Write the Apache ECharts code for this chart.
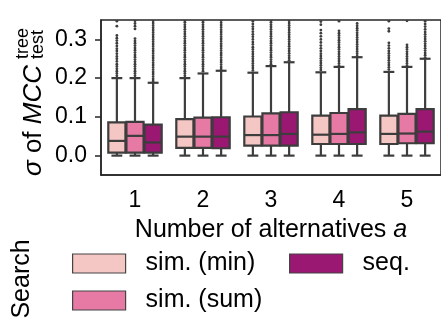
<!DOCTYPE html>
<html>
<head>
<meta charset="utf-8">
<script src="https://cdn.jsdelivr.net/npm/echarts@6/dist/echarts.min.js"></script>
<style>
html, body { margin: 0; padding: 0; background: #fff; }
#chart { width: 441px; height: 320px; }
</style>
</head>
<body>
<div id="chart"></div>
<script>
var categories = ['1', '2', '3', '4', '5'];
var searchNames = ['sim. (min)', 'sim. (sum)', 'seq.'];
var colors = ['#f4c7c5', '#e77aa4', '#9a1772'];
var yTicks = [0, 0.1, 0.2, 0.3];

// [lower whisker, q1, median, q3, upper whisker] for each a
var boxMin = [[0, 0.008, 0.038, 0.086, 0.200], [0, 0.020, 0.049, 0.094, 0.200], [0, 0.026, 0.053, 0.101, 0.214], [0, 0.030, 0.054, 0.103, 0.215], [0, 0.030, 0.056, 0.103, 0.216]];
var boxSum = [[0, 0.008, 0.051, 0.087, 0.200], [0, 0.020, 0.049, 0.098, 0.212], [0, 0.026, 0.053, 0.109, 0.231], [0, 0.030, 0.056, 0.110, 0.229], [0, 0.032, 0.057, 0.108, 0.229]];
var boxSeq = [[0, 0.008, 0.034, 0.080, 0.188], [0, 0.019, 0.049, 0.099, 0.219], [0, 0.026, 0.056, 0.112, 0.241], [0, 0.030, 0.060, 0.120, 0.254], [0, 0.032, 0.062, 0.120, 0.250]];

// outliers above the upper whisker (the plot is cut at 0.35)
var fliersMin = [
  [0.206, 0.212, 0.218, 0.224, 0.230, 0.236, 0.243, 0.250, 0.256, 0.263, 0.270, 0.276, 0.283, 0.290, 0.297, 0.303, 0.310, 0.334, 0.347],
  [0.206, 0.212, 0.218, 0.224, 0.230, 0.236, 0.242, 0.248, 0.254, 0.260, 0.266, 0.272, 0.278, 0.284, 0.290, 0.296, 0.302, 0.308, 0.314, 0.320, 0.326, 0.332, 0.338, 0.344, 0.349],
  [0.220, 0.226, 0.232, 0.238, 0.244, 0.250, 0.256, 0.262, 0.268, 0.274, 0.280, 0.287, 0.293, 0.300, 0.307, 0.313, 0.320, 0.327, 0.333, 0.340, 0.347],
  [0.221, 0.227, 0.233, 0.239, 0.245, 0.251, 0.257, 0.263, 0.270, 0.277, 0.284, 0.292, 0.300, 0.308, 0.316, 0.324, 0.338, 0.346],
  [0.222, 0.228, 0.234, 0.240, 0.246, 0.252, 0.258, 0.264, 0.270, 0.277, 0.284, 0.291, 0.321, 0.328, 0.347]
];
var fliersSum = [
  [0.206, 0.212, 0.218, 0.224, 0.230, 0.236, 0.242, 0.248, 0.254, 0.260, 0.266, 0.272, 0.278, 0.284, 0.290, 0.296, 0.302, 0.327, 0.334, 0.341, 0.348],
  [0.218, 0.224, 0.230, 0.236, 0.242, 0.248, 0.254, 0.260, 0.266, 0.272, 0.278, 0.284, 0.290, 0.296, 0.302, 0.308, 0.314, 0.320, 0.326, 0.332, 0.338, 0.344, 0.349],
  [0.236, 0.242, 0.248, 0.254, 0.260, 0.266, 0.272, 0.278, 0.284, 0.290, 0.296, 0.302, 0.308, 0.314, 0.320, 0.326, 0.332, 0.338, 0.344, 0.349],
  [0.232, 0.238, 0.244, 0.250, 0.256, 0.262, 0.268, 0.274, 0.280, 0.286, 0.292, 0.298, 0.304, 0.310, 0.316, 0.322, 0.347],
  [0.232, 0.238, 0.244, 0.250, 0.256, 0.262, 0.268, 0.274, 0.280, 0.286, 0.348]
];
var fliersSeq = [
  [0.192, 0.198, 0.204, 0.210, 0.216, 0.222, 0.228, 0.234, 0.240, 0.246, 0.252, 0.258, 0.264, 0.270, 0.276, 0.282, 0.288, 0.294, 0.300, 0.306, 0.312, 0.318, 0.324, 0.330, 0.336, 0.342, 0.348],
  [0.223, 0.229, 0.235, 0.241, 0.247, 0.253, 0.259, 0.265, 0.271, 0.277, 0.283, 0.289, 0.295, 0.301, 0.307, 0.313, 0.319, 0.325, 0.331, 0.337, 0.343, 0.349],
  [0.246, 0.252, 0.258, 0.264, 0.270, 0.276, 0.282, 0.288, 0.294, 0.300, 0.306, 0.312, 0.318, 0.324, 0.330, 0.336, 0.342, 0.348],
  [0.257, 0.263, 0.269, 0.275, 0.281, 0.287, 0.293, 0.299, 0.305, 0.311, 0.317, 0.323, 0.329, 0.335, 0.341],
  [0.253, 0.259, 0.265, 0.271, 0.277, 0.283, 0.289, 0.295, 0.301, 0.307, 0.313, 0.319, 0.326, 0.333, 0.340, 0.347]
];

var FONT = '"Liberation Sans", Arial, sans-serif';
var EDGE = '#3d3d3d';

function boxRender(h, fliers) {
  return function (params, api) {
    var i = api.value(0);
    var band = api.size([1, 0])[0];
    var w = band * 0.8 / 3;
    var cx = api.coord([i, 0])[0] + (h - 1) * w;
    var bw = w - 1;
    var cap = w * 0.3;
    var y = function (v) { return api.coord([i, v])[1]; };
    var lo = y(api.value(1)), q1 = y(api.value(2)), med = y(api.value(3)), q3 = y(api.value(4)), hi = y(api.value(5));
    var line = { stroke: EDGE, lineWidth: 2.2 };
    var kids = [
      { type: 'line', shape: { x1: cx, y1: q1, x2: cx, y2: lo }, style: line },
      { type: 'line', shape: { x1: cx, y1: q3, x2: cx, y2: hi }, style: line },
      { type: 'line', shape: { x1: cx - cap, y1: lo, x2: cx + cap, y2: lo }, style: line },
      { type: 'line', shape: { x1: cx - cap, y1: hi, x2: cx + cap, y2: hi }, style: line },
      { type: 'rect', shape: { x: cx - bw / 2, y: q3, width: bw, height: q1 - q3 }, style: { fill: colors[h], stroke: EDGE, lineWidth: 2.2 } },
      { type: 'line', shape: { x1: cx - bw / 2, y1: med, x2: cx + bw / 2, y2: med }, style: line }
    ];
    fliers[i].forEach(function (v) {
      kids.push({ type: 'circle', shape: { cx: cx, cy: y(v), r: 1.4 }, style: { fill: EDGE } });
    });
    return { type: 'group', children: kids };
  };
}

function boxSeries(h, boxes, fliers) {
  return {
    name: searchNames[h],
    type: 'custom',
    clip: true,
    itemStyle: { color: colors[h] },
    renderItem: boxRender(h, fliers),
    encode: { x: 0, y: [1, 2, 3, 4, 5] },
    data: boxes.map(function (b, i) { return [i].concat(b); })
  };
}

var legendBase = {
  padding: 0,
  icon: 'rect',
  itemWidth: 53,
  itemHeight: 19,
  selectedMode: false,
  itemStyle: { borderColor: '#444', borderWidth: 1.2 },
  textStyle: { fontFamily: FONT, fontSize: 25, color: '#000', lineHeight: 19, padding: [0, 0, 0, 15] }
};

var chart = echarts.init(document.getElementById('chart'));
chart.setOption({
  animation: false,
  grid: { left: 101, top: 20, right: -3, bottom: 145, show: true, borderColor: '#262626', borderWidth: 1.5 },
  xAxis: {
    type: 'category',
    data: categories,
    axisLine: { onZero: false, lineStyle: { color: '#262626', width: 1.5 } },
    axisTick: { alignWithLabel: true, length: 6, lineStyle: { color: '#262626', width: 1.5 } },
    axisLabel: { fontFamily: FONT, fontSize: 23, color: '#000', margin: 14 },
    name: 'Number of alternatives {i|a}',
    nameLocation: 'middle',
    nameGap: 43,
    nameTextStyle: {
      fontFamily: FONT, fontSize: 25, color: '#000', verticalAlign: 'top',
      rich: { i: { fontFamily: FONT, fontSize: 25, fontStyle: 'italic', color: '#000' } }
    }
  },
  yAxis: {
    type: 'value',
    min: -0.05,
    max: 0.35,
    splitLine: { show: false },
    axisLine: { show: true, lineStyle: { color: '#262626', width: 1.5 } },
    axisTick: { show: true, length: 6, customValues: yTicks, lineStyle: { color: '#262626', width: 1.5 } },
    axisLabel: {
      fontFamily: FONT, fontSize: 23, color: '#000', margin: 14, customValues: yTicks,
      formatter: function (v) { return v.toFixed(1); }
    }
  },
  legend: [
    Object.assign({}, legendBase, { data: [searchNames[0]], left: 72, top: 251 }),
    Object.assign({}, legendBase, { data: [searchNames[1]], left: 72, top: 288 }),
    Object.assign({}, legendBase, { data: [searchNames[2]], left: 289, top: 251 })
  ],
  graphic: [
    {
      type: 'group',
      x: 34, y: 176,
      rotation: Math.PI / 2,
      children: [
        {
          type: 'text', x: 0, y: 0,
          style: {
            text: '{i|σ} of {i|MCC}',
            fontFamily: FONT, fontSize: 26, fill: '#000',
            verticalAlign: 'middle', align: 'left',
            rich: { i: { fontFamily: FONT, fontSize: 26, fontStyle: 'italic', fill: '#000' } }
          }
        },
        { type: 'text', x: 117, y: -11, style: { text: 'tree', fontFamily: FONT, fontSize: 18, fill: '#000', verticalAlign: 'middle', align: 'left' } },
        { type: 'text', x: 117, y: 4, style: { text: 'test', fontFamily: FONT, fontSize: 18, fill: '#000', verticalAlign: 'middle', align: 'left' } }
      ]
    },
    {
      type: 'text', x: 22, y: 279, rotation: Math.PI / 2,
      style: { text: 'Search', fontFamily: FONT, fontSize: 25, fill: '#000', align: 'center', verticalAlign: 'middle' }
    }
  ],
  series: [
    boxSeries(0, boxMin, fliersMin),
    boxSeries(1, boxSum, fliersSum),
    boxSeries(2, boxSeq, fliersSeq)
  ]
});
</script>
</body>
</html>
